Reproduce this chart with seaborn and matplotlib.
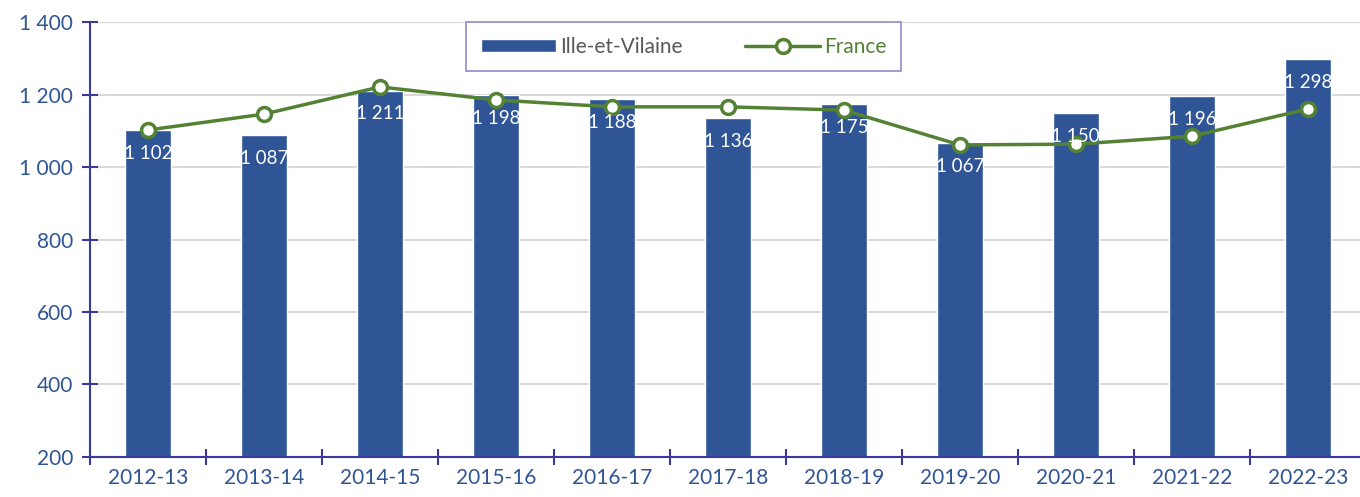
import numpy as np
import matplotlib.pyplot as plt
import seaborn as sns
from matplotlib.ticker import FuncFormatter, FixedLocator

# données
saisons = ["2012-13", "2013-14", "2014-15", "2015-16", "2016-17", "2017-18",
           "2018-19", "2019-20", "2020-21", "2021-22", "2022-23"]
ille_et_vilaine = [1102, 1087, 1211, 1198, 1188, 1136, 1175, 1067, 1150, 1196, 1298]
france = [1102, 1146, 1221, 1185, 1166, 1166, 1157, 1061, 1063, 1085, 1160]

bleu = "#2F5597"
vert = "#548235"
axe = "#3A3A9E"

sns.set_theme(style="white")
plt.rcParams["font.family"] = ["Lato", "DejaVu Sans"]

fig = plt.figure(figsize=(13.6, 4.97), dpi=100)
# le graphique d'origine est légèrement rogné à droite
ax = fig.add_axes([0.0662, 0.0805, 0.938, 0.8752])

sns.barplot(x=saisons, y=ille_et_vilaine, color=bleu, width=0.4,
            saturation=1, ax=ax, label="Ille-et-Vilaine", zorder=2)
pos = np.arange(len(saisons))
sns.lineplot(x=pos, y=france, color=vert, linewidth=2.5, marker="o",
             markersize=10, markerfacecolor="white", markeredgecolor=vert,
             markeredgewidth=2.5, ax=ax, label="France", zorder=3)

# étiquettes dans les barres
etiq = [f"{v:,}".replace(",", " ") for v in ille_et_vilaine]
ax.bar_label(ax.containers[0], labels=etiq, padding=-23, color="white", fontsize=13.5)

ax.set_ylim(200, 1400)
ax.set_xlim(-0.5, len(saisons) - 0.5)
ax.set_yticks(range(200, 1401, 200))
ax.yaxis.set_major_formatter(FuncFormatter(lambda v, p: f"{int(v):,}".replace(",", " ")))
ax.yaxis.grid(True, color="#D9D9D9", linewidth=1.5, zorder=0)
ax.set_axisbelow(True)

ax.xaxis.set_minor_locator(FixedLocator(np.arange(-0.5, len(saisons), 1.0)))
ax.tick_params(axis="x", which="major", length=0, labelsize=15, labelcolor=bleu, pad=8)
ax.tick_params(axis="x", which="minor", length=12, direction="inout", color=axe, width=1.5, bottom=True)
ax.tick_params(axis="y", length=12, direction="inout", color=axe, width=1.5,
               labelsize=15, labelcolor=bleu, pad=6, left=True)

for s in ["top", "right"]:
    ax.spines[s].set_visible(False)
for s in ["left", "bottom"]:
    ax.spines[s].set_color(axe)
    ax.spines[s].set_linewidth(1.5)

handles, labels = ax.get_legend_handles_labels()
ordre = [labels.index("Ille-et-Vilaine"), labels.index("France")]
leg = ax.legend([handles[i] for i in ordre], [labels[i] for i in ordre],
                loc="upper center", bbox_to_anchor=(0.4655, 1.0), ncol=2, fontsize=15,
                frameon=True, fancybox=False, edgecolor="#7070C0", borderpad=0.7,
                handlelength=3.6, handleheight=0.6, handletextpad=0.2,
                columnspacing=3, borderaxespad=0)
leg.get_frame().set_linewidth(1.2)
leg.get_texts()[0].set_color("#595959")
leg.get_texts()[1].set_color(vert)

fig.savefig("out.png", dpi=100)
